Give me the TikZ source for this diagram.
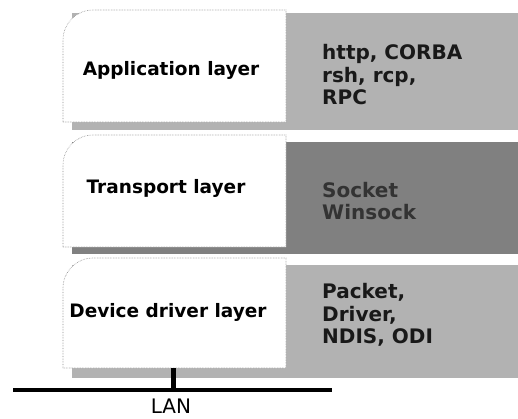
\documentclass[tikz,border=0pt]{standalone}
\usepackage{fontspec}
\setmainfont{DejaVu Sans}
\begin{document}
\begin{tikzpicture}[x=1pt,y=-1pt,
  whitebox/.style={fill=white,draw=black!45,densely dotted,line width=0.6pt},
  lightgray/.style={fill=black!30},
  darkgray/.style={fill=black!50},
  layerlabel/.style={font=\bfseries\fontsize{18.5}{21}\selectfont,text=black},
  proto/.style={font=\bfseries\fontsize{20}{22.5}\selectfont,anchor=west,align=left,inner sep=0pt}
]
\useasboundingbox (0,0) rectangle (518,418);
% layer 1
\fill[lightgray] (72,13) rectangle (518,130);
\path[whitebox] (63,122) -- (63,40) .. controls (63,23.4) and (76.4,10) .. (93,10) -- (286,10) -- (286,122) -- cycle;
\node[layerlabel] (app) at (171,70) {Application layer};
\node[proto,text=black!90] (appp) at (322,75) {http, CORBA\\rsh, rcp,\\RPC};
% layer 2
\fill[darkgray] (72,142) rectangle (518,254);
\path[whitebox] (63,247) -- (63,165) .. controls (63,148.4) and (76.4,135) .. (93,135) -- (286,135) -- (286,247) -- cycle;
\node[layerlabel] (trans) at (166,188) {Transport layer};
\node[proto,text=black!80] (transp) at (322,201) {Socket\\Winsock};
% layer 3
\fill[lightgray] (72,265) rectangle (518,378);
\path[whitebox] (63,368) -- (63,288) .. controls (63,271.4) and (76.4,258) .. (93,258) -- (286,258) -- (286,368) -- cycle;
\node[layerlabel] (dev) at (168,312) {Device driver layer};
\node[proto,text=black!90] (devp) at (322,315) {Packet,\\Driver,\\NDIS, ODI};
% LAN
\coordinate (lanL) at (13,390);
\coordinate (lanR) at (332,390);
\coordinate (stubT) at (173.5,368);
\coordinate (stubB) at (173.5,390);
\draw[line width=4pt] (lanL) -- (lanR);
\draw[line width=5.5pt] (stubT) -- (stubB);
\node[font=\fontsize{20}{22}\selectfont,anchor=base,inner sep=0pt] (lan) at (171,413.5) {LAN};
\end{tikzpicture}
\end{document}
